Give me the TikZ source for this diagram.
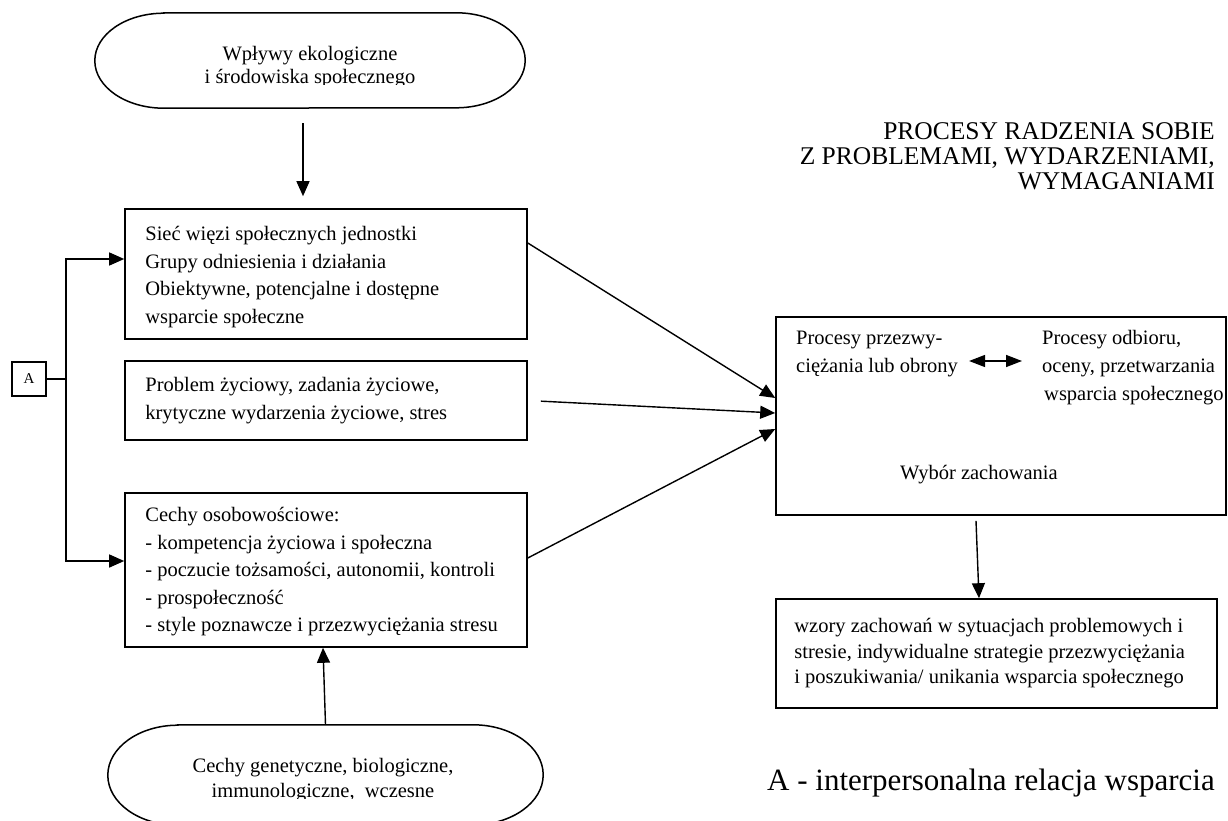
\documentclass[tikz,border=0pt]{standalone}
\usepackage{fontspec}
\setmainfont{Liberation Serif}
\usetikzlibrary{arrows.meta,calc}

\begin{document}
\begin{tikzpicture}[x=1pt,y=-1pt,
  box/.style={draw, line width=1.6pt, inner sep=0pt},
  arr/.style={line width=1.4pt, -{Triangle[length=15pt,width=13pt]}},
  dblarr/.style={line width=1.4pt, {Triangle[length=16pt,width=12pt]}-{Triangle[length=16pt,width=12pt]}},
  txt/.style={font=\fontsize{20.5}{27.5}\selectfont},
  plain/.style={inner sep=0pt},
  boxtext/.style={plain, txt, anchor=west, align=left},
  outline/.style={line width=1.5pt},
]
\useasboundingbox[fill=white] (0,0) rectangle (1228,821);

% ---- terminator: ecological influences (top)
\node[plain, minimum width=430pt, minimum height=95pt] (t) at (310,60.5) {};
\draw[outline] ($(t.north west)+(69,0)$) -- ($(t.north east)+(-69,0)$)
  arc[start angle=90, end angle=-90, x radius=69pt, y radius=47.5pt]
  -- ($(t.south west)+(69,0)$)
  arc[start angle=270, end angle=90, x radius=69pt, y radius=47.5pt] -- cycle;
\begin{scope}
  \clip (0,0) rectangle (1228,85);
  \node[plain, align=center, font=\fontsize{20.5}{23}\selectfont] (tt) at (310,67)
    {Wpływy ekologiczne\\i środowiska społecznego};
\end{scope}

% ---- terminator: genetic traits (bottom)
\node[plain, minimum width=435pt, minimum height=100pt] (g) at (325.5,775) {};
\draw[outline] ($(g.north west)+(70,0)$) -- ($(g.north east)+(-70,0)$)
  arc[start angle=90, end angle=-90, x radius=70pt, y radius=50pt]
  -- ($(g.south west)+(70,0)$)
  arc[start angle=270, end angle=90, x radius=70pt, y radius=50pt] -- cycle;
\begin{scope}
  \clip (0,0) rectangle (1228,798);
  \node[plain, align=center, font=\fontsize{20.5}{25}\selectfont] (gt) at (323,780)
    {Cechy genetyczne, biologiczne,\\immunologiczne,\ \ wczesne};
\end{scope}

% ---- left column of boxes
\node[box, minimum width=402pt, minimum height=130pt] (b1) at (326,274) {};
\node[boxtext] (b1t) at ($(b1.west)+(21,3)$)
  {Sieć więzi społecznych jednostki\\Grupy odniesienia i działania\\Obiektywne, potencjalne i dostępne\\wsparcie społeczne};
\node[box, minimum width=402pt, minimum height=79pt] (b2) at (326,400.5) {};
\node[boxtext] (b2t) at ($(b2.west)+(21,0)$)
  {Problem życiowy, zadania życiowe,\\krytyczne wydarzenia życiowe, stres};
\node[box, minimum width=402pt, minimum height=154pt] (b3) at (326,570) {};
\node[boxtext] (b3t) at ($(b3.west)+(21,2)$)
  {Cechy osobowościowe:\\- kompetencja życiowa i społeczna\\- poczucie tożsamości, autonomii, kontroli\\- prospołeczność\\- style poznawcze i przezwyciężania stresu};

% ---- support relation A
\node[box, minimum size=34pt, font=\fontsize{15}{18}\selectfont] (A) at (29,379) {A};
\coordinate (J) at (66,379);
\draw[line width=1.4pt] (A.east) -- (J);
\draw[arr] (J) |- ($(b1.west)+(0,-15)$);
\draw[arr] (J) |- ($(b3.west)+(0,-9)$);

% ---- coping processes box
\node[box, minimum width=450pt, minimum height=198pt] (R) at (1001,416) {};
\node[boxtext, font=\fontsize{20.5}{28}\selectfont] (p1) at (796,354)
  {Procesy przezwy-\\ciężania lub obrony};
\node[boxtext, font=\fontsize{20.5}{28}\selectfont] (p2) at (1042,368)
  {Procesy odbioru,\\oceny, przetwarzania\\\hspace*{2pt}wsparcia społecznego};
\draw[dblarr] ($(p1.east)+(11,7)$) -- ($(p2.west)+(-20,-7)$);
\node[plain, txt] (wz) at (979,475) {Wybór zachowania};

% ---- behaviour patterns box
\node[box, minimum width=441pt, minimum height=109pt] (W) at (996.5,653.5) {};
\node[boxtext, font=\fontsize{20.5}{25.5}\selectfont] (Wt) at ($(W.west)+(19,0)$)
  {wzory zachowań w sytuacjach problemowych i\\stresie, indywidualne strategie przezwyciężania\\i poszukiwania/ unikania wsparcia społecznego};

% ---- headings
\node[plain, anchor=east, align=right, font=\fontsize{25.5}{25}\selectfont] (title) at (1215,156)
  {PROCESY RADZENIA SOBIE\\Z PROBLEMAMI, WYDARZENIAMI,\\WYMAGANIAMI};
\node[plain, anchor=west, font=\fontsize{31}{36}\selectfont] (leg) at (767,783)
  {A - interpersonalna relacja wsparcia};

% ---- connectors
\draw[arr] ($(t.south)+(-7,15)$) -- ($(b1.north)+(-23,-12)$);
\draw[arr] (g.north) -- ($(b3.south)+(-3,0)$);
\draw[arr] ($(b1.east)+(0,-31)$) -- ($(R.west)+(0,-18)$);
\draw[arr, shorten <=13pt] (b2.east) -- ($(R.west)+(0,-3)$);
\draw[arr] ($(b3.east)+(0,-12)$) -- ($(R.west)+(0,13)$);
\draw[arr] ($(R.south)+(-25,5)$) -- ($(W.north)+(-17.5,0)$);
\end{tikzpicture}
\end{document}
